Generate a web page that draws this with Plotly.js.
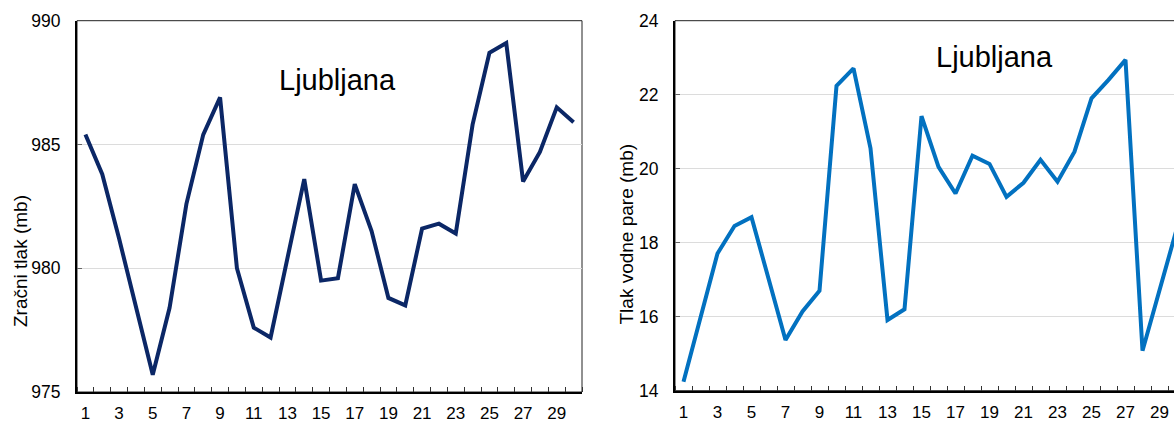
<!DOCTYPE html>
<html>
<head>
<meta charset="utf-8">
<script src="https://cdn.plot.ly/plotly-3.0.1.min.js"></script>
<style>
  html, body { margin: 0; padding: 0; overflow: hidden; background: #fff; }
  #chart { width: 1200px; height: 422px; }
</style>
</head>
<body>
<div id="chart"></div>
<script>
// Days of the month
const days = [1, 2, 3, 4, 5, 6, 7, 8, 9, 10, 11, 12, 13, 14, 15,
              16, 17, 18, 19, 20, 21, 22, 23, 24, 25, 26, 27, 28, 29, 30];

// Air pressure, Ljubljana (mb)
const airPressure = [985.4, 983.8, 981.2, 978.5, 975.7, 978.4, 982.6, 985.4, 986.9, 980.0,
                     977.6, 977.2, 980.4, 983.6, 979.5, 979.6, 983.4, 981.5, 978.8, 978.5,
                     981.6, 981.8, 981.4, 985.8, 988.7, 989.1, 983.5, 984.7, 986.5, 985.9];

// Water vapour pressure, Ljubljana (mb)
const vapourPressure = [14.24, 16.0, 17.71, 18.45, 18.69, 17.03, 15.37, 16.14, 16.70, 22.24,
                        22.71, 20.55, 15.91, 16.2, 21.42, 20.05, 19.33, 20.35, 20.13, 19.24,
                        19.62, 20.24, 19.65, 20.46, 21.9, 22.4, 22.94, 15.08, 16.74, 18.35];

const stationName = 'Ljubljana';
const leftTitle = 'Zračni tlak (mb)';
const rightTitle = 'Tlak vodne pare (mb)';

// Labels on every other day, tick marks on the day boundaries
const labelDays = days.filter(d => d % 2 === 1);
const boundaries = days.map(d => d - 0.5).concat([days[days.length - 1] + 0.5]);

const W = 1200, H = 422;
const font = 'Liberation Sans, Arial, sans-serif';

function xAxis(domainPx, anchor) {
  return {
    domain: [domainPx[0] / W, domainPx[1] / W],
    anchor: anchor,
    range: [0.5, 30.5],
    tickmode: 'array',
    tickvals: labelDays,
    ticktext: labelDays.map(String),
    ticks: '',
    ticklabelstandoff: 5,
    showgrid: false,
    zeroline: false,
    showline: true,
    linecolor: '#000',
    linewidth: 2,
    tickfont: { family: font, size: 17, color: '#000' },
    minor: {
      tickmode: 'array',
      tickvals: boundaries,
      ticks: 'inside',
      ticklen: 5,
      tickwidth: 1,
      tickcolor: '#333',
      showgrid: false
    },
    fixedrange: true
  };
}

function yAxis(domainPx, anchor, range, dtick) {
  return {
    domain: [1 - domainPx[1] / H, 1 - domainPx[0] / H],
    anchor: anchor,
    range: range,
    dtick: dtick,
    ticks: 'inside',
    ticklen: 5,
    tickcolor: '#666',
    ticklabelstandoff: 11,
    showgrid: true,
    gridcolor: '#dcdcdc',
    gridwidth: 1,
    zeroline: false,
    showline: true,
    linecolor: '#000',
    linewidth: 2,
    tickfont: { family: font, size: 17.5, color: '#000' },
    fixedrange: true
  };
}

const traces = [
  {
    x: days, y: airPressure, xaxis: 'x', yaxis: 'y',
    type: 'scatter', mode: 'lines',
    line: { color: '#0b2766', width: 4 },
    hoverinfo: 'x+y'
  },
  {
    x: days, y: vapourPressure, xaxis: 'x2', yaxis: 'y2',
    type: 'scatter', mode: 'lines',
    line: { color: '#0271c0', width: 4 },
    hoverinfo: 'x+y'
  }
];

const layout = {
  width: W, height: H,
  margin: { l: 0, r: 0, t: 0, b: 0 },
  paper_bgcolor: '#fff', plot_bgcolor: '#fff',
  showlegend: false,
  font: { family: font, color: '#000' },
  xaxis: xAxis([77, 582], 'y'),
  yaxis: yAxis([20.7, 392], 'x', [975, 990], 5),
  xaxis2: xAxis([675, 1185], 'y2'),
  yaxis2: yAxis([20.7, 390.7], 'x2', [14, 24], 2),
  shapes: [
    { type: 'rect', xref: 'x domain', yref: 'y domain', x0: 0, x1: 1, y0: 0, y1: 1,
      line: { color: '#222', width: 1 }, layer: 'below' },
    { type: 'rect', xref: 'x2 domain', yref: 'y2 domain', x0: 0, x1: 1, y0: 0, y1: 1,
      line: { color: '#222', width: 1 }, layer: 'below' }
  ],
  annotations: [
    { text: stationName, xref: 'paper', yref: 'paper', x: 337 / W, y: 1 - 80 / H,
      showarrow: false, xanchor: 'center', yanchor: 'middle',
      font: { family: font, size: 29, color: '#000' } },
    { text: stationName, xref: 'paper', yref: 'paper', x: 994.5 / W, y: 1 - 57 / H,
      showarrow: false, xanchor: 'center', yanchor: 'middle',
      font: { family: font, size: 29, color: '#000' } },
    { text: leftTitle, xref: 'paper', yref: 'paper', x: 20 / W, y: 1 - 261 / H,
      showarrow: false, textangle: -90, xanchor: 'center', yanchor: 'middle',
      font: { family: font, size: 19, color: '#000' } },
    { text: rightTitle, xref: 'paper', yref: 'paper', x: 626.5 / W, y: 1 - 234 / H,
      showarrow: false, textangle: -90, xanchor: 'center', yanchor: 'middle',
      font: { family: font, size: 19, color: '#000' } }
  ]
};

Plotly.newPlot('chart', traces, layout, { displayModeBar: false, staticPlot: true });
</script>
</body>
</html>
